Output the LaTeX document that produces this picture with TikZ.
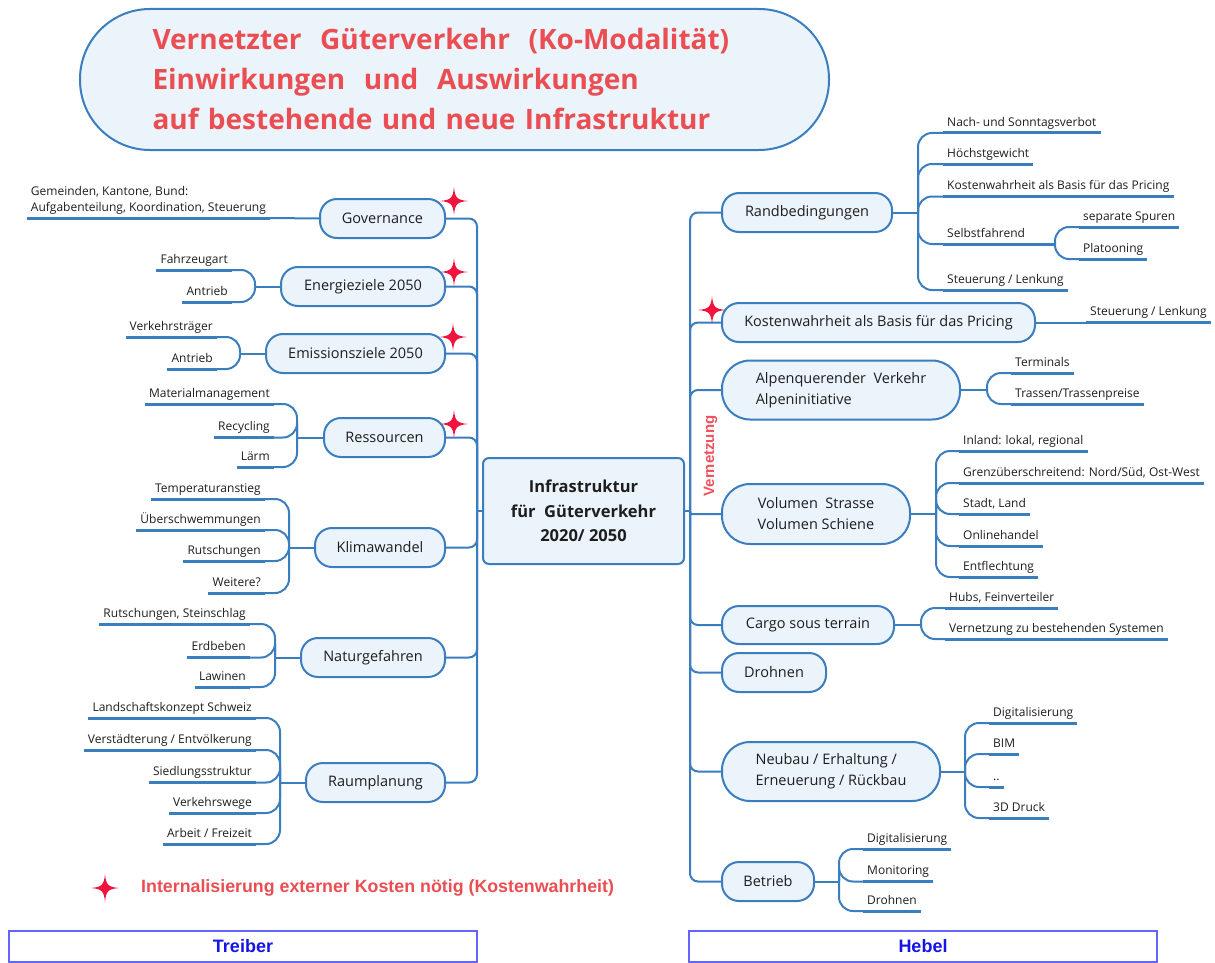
\documentclass[tikz,border=0pt]{standalone}
\usepackage{fontspec}
\setmainfont{Open Sans}
\newfontfamily\arialfont{Liberation Sans}
\usetikzlibrary{backgrounds}
\definecolor{nodeblue}{RGB}{58,126,192}
\definecolor{nodefill}{RGB}{235,243,251}
\definecolor{titlered}{RGB}{234,78,82}
\definecolor{vtext}{RGB}{242,80,92}
\definecolor{starred}{RGB}{240,20,60}
\definecolor{vernred}{RGB}{236,20,70}
\definecolor{boxblue}{RGB}{100,100,255}
\definecolor{textblue}{RGB}{20,20,230}
\definecolor{leaftext}{RGB}{30,30,30}
\newcommand\lleafat[4]{\node[lleaf] (#1) at (#2,#3) {#4}; \draw[uline] (#1.south west) -- (#1.south east);}
\newcommand\rleafat[4]{\node[rleaf] (#1) at (#2,#3) {#4}; \draw[uline] (#1.south west) -- (#1.south east);}
\begin{document}
\begin{tikzpicture}[x=1pt,y=-1pt,
 mnode/.style={draw=nodeblue,line width=2pt,fill=nodefill,rounded corners=17pt,inner sep=0pt,minimum height=39pt,font=\fontsize{14.5}{21}\selectfont,text=leaftext},
 bignode/.style={mnode,rounded corners=28pt,minimum height=59pt},
 lleaf/.style={anchor=south east,inner xsep=4pt,inner ysep=3.5pt,text depth=3pt,font=\fontsize{12}{16}\selectfont,text=leaftext},
 rleaf/.style={lleaf,anchor=south west},
 uline/.style={draw=nodeblue,line width=3pt},
 conn/.style={draw=nodeblue,line width=2pt,rounded corners=14pt},
 trunk/.style={draw=nodeblue,line width=2pt,rounded corners=8pt},
 bbox/.style={draw=boxblue,line width=1.5pt,inner sep=0pt,minimum width=468pt,minimum height=31pt,text=textblue,font=\arialfont\bfseries\fontsize{18}{20}\selectfont},
 kstar/.pic={\fill[starred] (0,-14) .. controls (1,-3) and (3,-1) .. (14,0) .. controls (3,1) and (1,3) .. (0,14) .. controls (-1,3) and (-3,1) .. (-14,0) .. controls (-3,-1) and (-1,-3) .. cycle;}
]
\fill[white] (0,0) rectangle (1215,963);
\useasboundingbox (0,0) rectangle (1215,963);

% title
\node[draw=nodeblue,line width=2pt,fill=nodefill,rounded corners=70pt,minimum width=749pt,minimum height=141pt,text width=604pt,align=left,inner sep=0pt,text=titlered,font=\bfseries\fontsize{28}{40}\selectfont] (title) at (454.5,79.5)
 {Vernetzter~ Güterverkehr~ (Ko-Modalität)\\Einwirkungen~ und~ Auswirkungen\\auf bestehende und neue Infrastruktur};

% center
\node[mnode,rounded corners=6pt,minimum width=201pt,minimum height=106pt,align=center,font=\bfseries\fontsize{16.5}{24.5}\selectfont] (center) at (583.5,511) {Infrastruktur\\für~ Güterverkehr\\2020/ 2050};

% left nodes
\node[mnode,minimum width=125pt] (gov) at (382.5,218.5) {Governance};
\node[mnode,minimum width=164pt] (ene) at (363,286.5) {Energieziele 2050};
\node[mnode,minimum width=179pt] (emi) at (355.5,353.5) {Emissionsziele 2050};
\node[mnode,minimum width=121pt] (res) at (384.5,437.5) {Ressourcen};
\node[mnode,minimum width=130pt] (kli) at (380,547.5) {Klimawandel};
\node[mnode,minimum width=144pt] (nat) at (373,657.5) {Naturgefahren};
\node[mnode,minimum width=139pt] (rau) at (375.5,782.5) {Raumplanung};

% right nodes
\node[mnode,minimum width=170pt] (rand) at (807,212.5) {Randbedingungen};
\node[mnode,minimum width=313pt] (kost) at (878.5,322.5) {Kostenwahrheit als Basis für das Pricing};
\node[bignode,minimum width=238pt,align=left] (alp) at (841,390) {Alpenquerender~ Verkehr\\Alpeninitiative};
\node[bignode,minimum width=188pt,minimum height=60pt,align=center] (vol) at (816,514) {Volumen~ Strasse\\Volumen Schiene};
\node[mnode,minimum width=172pt,minimum height=38pt] (cargo) at (808,625) {Cargo sous terrain};
\node[mnode,minimum width=104pt] (droh) at (774,672.5) {Drohnen};
\node[bignode,minimum width=218pt,align=left] (neu) at (831,771.5) {Neubau / Erhaltung /\\Erneuerung / Rückbau};
\node[mnode,minimum width=92pt] (bet) at (768,881.5) {Betrieb};

% Vernetzung
\coordinate (vx) at (750,0);
\begin{scope}[on background layer]
\draw[vernred,line width=4.5pt] (vx |- alp.south) -- (vx |- droh.north);
\end{scope}
\node[rotate=90,text=vtext,inner sep=0pt,font=\arialfont\bfseries\fontsize{15}{17}\selectfont] (vern) at (710.5,456) {Vernetzung};

% trunks
\coordinate (lj) at (477,511);
\coordinate (rj) at (690,511);
\draw[trunk] (center.west) -- (lj);
\draw[trunk] (center.east) -- (rj);
\foreach \n in {gov,ene,emi,res,kli,nat,rau} \draw[trunk] (lj) |- (\n.east);
\foreach \n in {rand,kost,alp,cargo,droh,neu,bet} \draw[trunk] (rj) |- (\n.west);
\draw[trunk,rounded corners=1.5pt] (rj) |- (vol.west);

% stars
\pic at (454,201) {kstar};
\pic at (454,272) {kstar};
\pic at (453,337) {kstar};
\pic at (454,424) {kstar};
\pic at (712,310) {kstar};

% ---- left leaves
\node[lleaf,align=left] (gl) at (270,218) {Gemeinden, Kantone, Bund:\\Aufgabenteilung, Koordination, Steuerung};
\draw[uline] (gl.south west) -- (gl.south east);
\draw[conn] (gov.west) -- (gl.south east);

\coordinate (jene) at (255,286.5);
\draw[conn] (ene.west) -- (jene);
\lleafat{ene1}{232}{270}{Fahrzeugart}
\lleafat{ene2}{232}{302}{Antrieb}
\foreach \l in {ene1,ene2} \draw[conn] (jene) |- (\l.south east);

\coordinate (jemi) at (240,353.5);
\draw[conn] (emi.west) -- (jemi);
\lleafat{emi1}{217}{337}{Verkehrsträger}
\lleafat{emi2}{217}{369}{Antrieb}
\foreach \l in {emi1,emi2} \draw[conn] (jemi) |- (\l.south east);

\coordinate (jres) at (297,437.5);
\draw[conn] (res.west) -- (jres);
\lleafat{res1}{274}{404}{Materialmanagement}
\lleafat{res2}{274}{437.5}{Recycling}
\lleafat{res3}{274}{467}{Lärm}
\foreach \l in {res1,res2,res3} \draw[conn] (jres) |- (\l.south east);

\coordinate (jkli) at (289,547.5);
\draw[conn] (kli.west) -- (jkli);
\lleafat{kli1}{265}{499}{Temperaturanstieg}
\lleafat{kli2}{265}{530}{Überschwemmungen}
\lleafat{kli3}{265}{561}{Rutschungen}
\lleafat{kli4}{265}{593}{Weitere?}
\foreach \l in {kli1,kli2,kli3,kli4} \draw[conn] (jkli) |- (\l.south east);

\coordinate (jnat) at (275,657.5);
\draw[conn] (nat.west) -- (jnat);
\lleafat{nat1}{250}{624}{Rutschungen, Steinschlag}
\lleafat{nat2}{250}{657.5}{Erdbeben}
\lleafat{nat3}{250}{687}{Lawinen}
\foreach \l in {nat1,nat2,nat3} \draw[conn] (jnat) |- (\l.south east);

\coordinate (jrau) at (280,782.5);
\draw[conn] (rau.west) -- (jrau);
\lleafat{rau1}{256}{718}{Landschaftskonzept Schweiz}
\lleafat{rau2}{256}{750}{Verstädterung / Entvölkerung}
\lleafat{rau3}{256}{782.5}{Siedlungsstruktur}
\lleafat{rau4}{256}{813}{Verkehrswege}
\lleafat{rau5}{256}{844}{Arbeit / Freizeit}
\foreach \l in {rau1,rau2,rau3,rau4,rau5} \draw[conn] (jrau) |- (\l.south east);

% ---- right leaves
\coordinate (jrand) at (918,212.5);
\draw[conn] (rand.east) -- (jrand);
\rleafat{rand1}{943}{133}{Nach- und Sonntagsverbot}
\rleafat{rand2}{943}{164}{Höchstgewicht}
\rleafat{rand3}{943}{196.5}{Kostenwahrheit als Basis für das Pricing}
\rleafat{rand4}{943}{244}{Selbstfahrend}
\rleafat{rand5}{943}{290}{Steuerung / Lenkung}
\foreach \l in {rand1,rand2,rand3,rand4,rand5} \draw[conn] (jrand) |- (\l.south west);
\coordinate (jself) at (1055,244);
\draw[uline] (rand4.south east) -- (jself);
\rleafat{self1}{1079}{227}{separate Spuren}
\rleafat{self2}{1079}{259}{Platooning}
\foreach \l in {self1,self2} \draw[conn] (jself) |- (\l.south west);

\rleafat{kost1}{1086}{322.5}{Steuerung / Lenkung}
\draw[conn] (kost.east) -- (kost1.south west);

\coordinate (jalp) at (987,390);
\draw[conn] (alp.east) -- (jalp);
\rleafat{alp1}{1011}{373}{Terminals}
\rleafat{alp2}{1011}{404}{Trassen/Trassenpreise}
\foreach \l in {alp1,alp2} \draw[conn] (jalp) |- (\l.south west);

\coordinate (jvol) at (936,514);
\draw[conn] (vol.east) -- (jvol);
\rleafat{vol1}{959}{451}{Inland: lokal, regional}
\rleafat{vol2}{959}{483}{Grenzüberschreitend: Nord/Süd, Ost-West}
\rleafat{vol3}{959}{514}{Stadt, Land}
\rleafat{vol4}{959}{546}{Onlinehandel}
\rleafat{vol5}{959}{577}{Entflechtung}
\foreach \l in {vol1,vol2,vol3,vol4,vol5} \draw[conn] (jvol) |- (\l.south west);

\coordinate (jcargo) at (921,625);
\draw[conn] (cargo.east) -- (jcargo);
\rleafat{cargo1}{945}{608}{Hubs, Feinverteiler}
\rleafat{cargo2}{945}{639}{Vernetzung zu bestehenden Systemen}
\foreach \l in {cargo1,cargo2} \draw[conn] (jcargo) |- (\l.south west);

\coordinate (jneu) at (965,771.5);
\draw[conn] (neu.east) -- (jneu);
\rleafat{neu1}{989}{723}{Digitalisierung}
\rleafat{neu2}{989}{754}{BIM}
\rleafat{neu3}{989}{787}{..}
\rleafat{neu4}{989}{818}{3D Druck}
\foreach \l in {neu1,neu2,neu3,neu4} \draw[conn] (jneu) |- (\l.south west);

\coordinate (jbet) at (839,881.5);
\draw[conn] (bet.east) -- (jbet);
\rleafat{bet1}{863}{849}{Digitalisierung}
\rleafat{bet2}{863}{881.5}{Monitoring}
\rleafat{bet3}{863}{911}{Drohnen}
\foreach \l in {bet1,bet2,bet3} \draw[conn] (jbet) |- (\l.south west);

% footer
\pic at (105,888) {kstar};
\node[anchor=west,inner sep=0pt,text=titlered,font=\arialfont\bfseries\fontsize{17.8}{20}\selectfont] (note) at (141,888) {Internalisierung externer Kosten nötig (Kostenwahrheit)};
\node[bbox] (treiber) at (243,946.5) {Treiber};
\node[bbox] (hebel) at (923,946.5) {Hebel};
\end{tikzpicture}
\end{document}
